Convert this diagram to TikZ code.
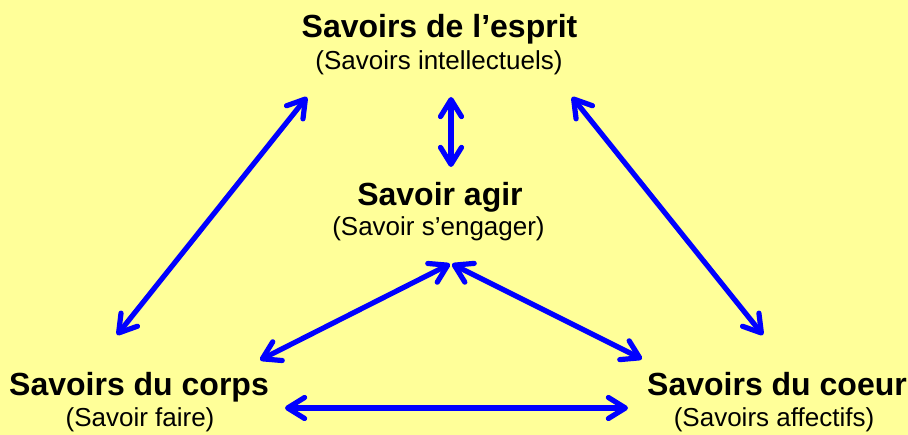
\documentclass[tikz,border=0pt]{standalone}
\usepackage{fontspec}
\setmainfont{Liberation Sans}
\usetikzlibrary{arrows.meta}
\definecolor{bgyellow}{HTML}{FFFF99}
\definecolor{arrowblue}{HTML}{0000FF}
\begin{document}
\begin{tikzpicture}[x=1pt,y=-1pt,
  titletext/.style={anchor=base,inner sep=0pt,font=\fontsize{32}{36}\selectfont\bfseries},
  subtext/.style={anchor=base,inner sep=0pt,font=\fontsize{26}{30}\selectfont},
  barb/.tip={Straight Barb[length=17pt,width=21pt,line cap=round,line join=round]},
  link/.style={draw=arrowblue,line width=5.2pt,line cap=round,barb-barb}]
\fill[bgyellow] (0,0) rectangle (908,435);
\useasboundingbox (0,0) rectangle (908,435);
% texts
\node[titletext] (esprit) at (439.5,38) {Savoirs de l’esprit};
\node[subtext] (espritsub) at (439,70) {(Savoirs intellectuels)};
\node[titletext] (agir) at (440,206) {Savoir agir};
\node[subtext] (agirsub) at (438.5,236) {(Savoir s’engager)};
\node[titletext] (corps) at (139,396) {Savoirs du corps};
\node[subtext] (corpssub) at (140,427) {(Savoir faire)};
\node[titletext] (coeur) at (777,396) {Savoirs du coeur};
\node[subtext] (coeursub) at (774,427) {(Savoirs affectifs)};
% arrow ends
\coordinate (e1) at (307,97);
\coordinate (c1) at (117,335);
\coordinate (e2) at (451,97);
\coordinate (a2) at (451,167);
\coordinate (e3) at (572,97);
\coordinate (h3) at (763,335);
\coordinate (a4) at (450,264);
\coordinate (c4) at (260,360);
\coordinate (a5) at (452,264);
\coordinate (h5) at (642,359);
\coordinate (c6) at (285,408);
\coordinate (h6) at (628,408);
% connectors
\draw[link] (e1) -- (c1);
\draw[link] (e2) -- (a2);
\draw[link] (e3) -- (h3);
\draw[link] (a4) -- (c4);
\draw[link] (a5) -- (h5);
\draw[link] (c6) -- (h6);
\end{tikzpicture}
\end{document}
